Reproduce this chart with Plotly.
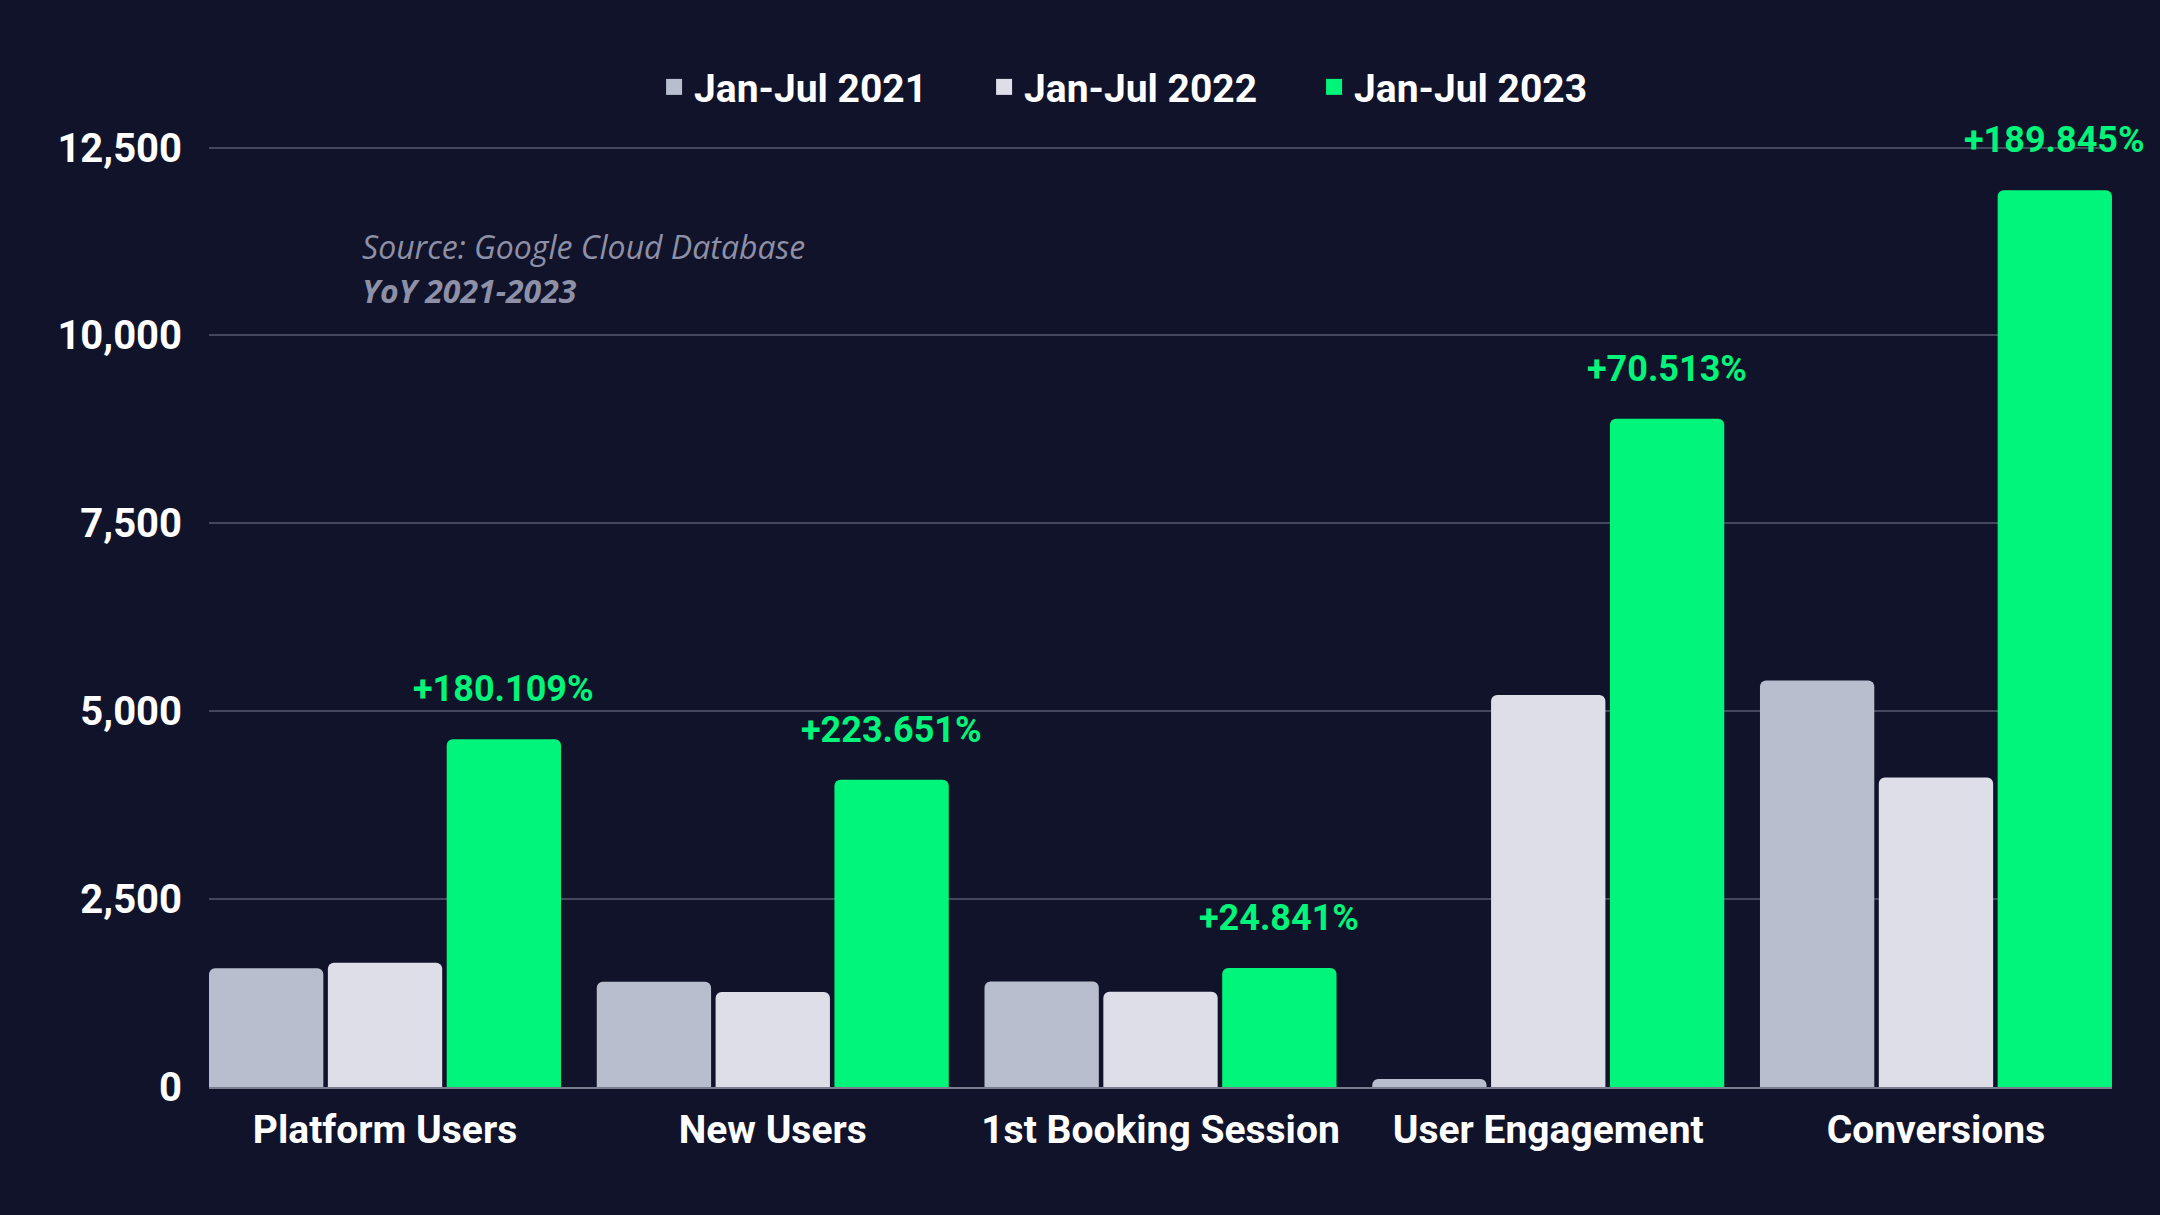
import plotly.graph_objects as go

# ---- data ----
categories = ["Platform Users", "New Users", "1st Booking Session", "User Engagement", "Conversions"]
series_names = ["Jan-Jul 2021", "Jan-Jul 2022", "Jan-Jul 2023"]
values_2021 = [1580, 1400, 1405, 105, 5410]
values_2022 = [1652, 1263, 1268, 5215, 4117]
values_2023 = [4627, 4088, 1583, 8892, 11933]
growth_labels = ["+180.109%", "+223.651%", "+24.841%", "+70.513%", "+189.845%"]
y_ticks = [0, 2500, 5000, 7500, 10000, 12500]
y_tick_labels = ["0", "2,500", "5,000", "7,500", "10,000", "12,500"]
source_line = "Source: Google Cloud Database"
period_line = "YoY 2021-2023"

# ---- style ----
BG = "#11132a"
C2021 = "#b8bece"
C2022 = "#dddee8"
C2023 = "#00f57a"
GRID = "#45475c"
AXIS = "#7a7d8d"
FONT = "Roboto"
BARGAP = 0.0805
GROUPGAP = 0.038

xpos = list(range(len(categories)))
colors = [C2021, C2022, C2023]
series_values = [values_2021, values_2022, values_2023]

fig = go.Figure()
for name, vals, col in zip(series_names, series_values, colors):
    fig.add_trace(go.Bar(
        x=xpos, y=vals, name=name, showlegend=False,
        marker=dict(color=col, line=dict(width=0)),
        hoverinfo="skip",
    ))
# legend entries (square swatches)
for name, col in zip(series_names, colors):
    fig.add_trace(go.Scatter(
        x=[None], y=[None], mode="markers", name=name,
        marker=dict(symbol="square", size=16, color=col),
        hoverinfo="skip",
    ))

slot = (1 - BARGAP) / 3
for i, (v, lab) in enumerate(zip(values_2023, growth_labels)):
    fig.add_annotation(
        x=xpos[i] + slot, y=v, xref="x", yref="y",
        text=lab, showarrow=False, yanchor="middle", yshift=50,
        font=dict(family=FONT, size=36, color=C2023, weight="bold"),
    )

fig.add_annotation(
    xref="paper", yref="paper", x=0.0791, y=0.8602, xanchor="left", yanchor="middle",
    text="<i>" + source_line + "</i>", showarrow=False,
    font=dict(family="Open Sans", size=32, color="#8d90a6"),
)
fig.add_annotation(
    xref="paper", yref="paper", x=0.0791, y=0.815, xanchor="left", yanchor="middle",
    text="<b><i>" + period_line + "</i></b>", showarrow=False,
    font=dict(family="Open Sans", size=32, color="#8d90a6"),
)

fig.update_layout(
    width=2160, height=1215,
    margin=dict(l=209, r=48, t=110, b=128),
    paper_bgcolor=BG, plot_bgcolor=BG,
    barmode="group", bargap=BARGAP, bargroupgap=GROUPGAP,
    barcornerradius=6,
    showlegend=True,
    legend=dict(
        orientation="h", x=0.494, xanchor="center", y=1.0235, yanchor="middle",
        font=dict(family=FONT, size=39, color="#ffffff", weight="bold"),
        bgcolor="rgba(0,0,0,0)", entrywidth=285, entrywidthmode="pixels",
        traceorder="normal",
    ),
    xaxis=dict(
        range=[-0.454, len(categories) - 1 + 0.454],
        tickvals=xpos, ticktext=categories,
        showgrid=False, zeroline=False,
        showline=True, linecolor=AXIS, linewidth=2,
        ticks="", ticklabelstandoff=7,
        tickfont=dict(family=FONT, size=39, color="#ffffff", weight="bold"),
        fixedrange=True,
    ),
    yaxis=dict(
        range=[0, 13000],
        tickvals=y_ticks, ticktext=y_tick_labels,
        showgrid=True, gridcolor=GRID, gridwidth=2,
        zeroline=False, showline=False,
        ticks="", ticklabelstandoff=26,
        tickfont=dict(family=FONT, size=40, color="#ffffff", weight="bold"),
        fixedrange=True,
    ),
)

fig.write_html(
    "out.html",
    config={"displayModeBar": False},
    post_script="document.body.style.margin='0';document.body.style.background='" + BG + "';",
)
